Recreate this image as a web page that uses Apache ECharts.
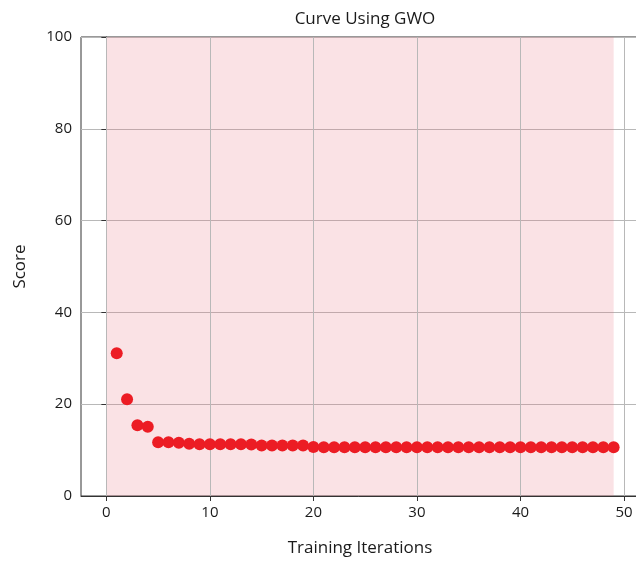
<!DOCTYPE html>
<html>
<head>
<meta charset="utf-8">
<script src="https://cdn.jsdelivr.net/npm/echarts@6/dist/echarts.min.js"></script>
<style>
html, body { margin: 0; padding: 0; background: #fff; }
#main { width: 636px; height: 565px; }
</style>
</head>
<body>
<div id="main"></div>
<script>
// 迭代次数与得分
const iterations = [1,2,3,4,5,6,7,8,9,10,11,12,13,14,15,16,17,18,19,20,21,22,23,24,25,26,27,28,29,30,31,32,33,34,35,36,37,38,39,40,41,42,43,44,45,46,47,48,49];
const scores = [31.1,21.1,15.4,15.1,11.7,11.7,11.6,11.4,11.3,11.3,11.3,11.3,11.3,11.2,11.0,11.0,11.0,11.0,11.0,10.7,10.6,10.6,10.6,10.6,10.6,10.6,10.6,10.6,10.6,10.6,10.6,10.6,10.6,10.6,10.6,10.6,10.6,10.6,10.6,10.6,10.6,10.6,10.6,10.6,10.6,10.6,10.6,10.6,10.6];
const xTicks = [0, 10, 20, 30, 40, 50];
const spanRange = [0, 49];

const font = 'Open Sans';
const chart = echarts.init(document.getElementById('main'), null, { renderer: 'canvas' });

const option = {
	animation: false,
	title: {
		text: 'Curve Using GWO',
		left: 360,
		textAlign: 'center',
		top: 6,
		textStyle: { fontFamily: font, fontSize: 17, fontWeight: 'normal', color: '#1a1a1a' }
	},
	grid: {
		left: 81,
		top: 37,
		right: -3,
		bottom: 69,
		outerBoundsMode: 'none',
		show: true,
		borderColor: '#333',
		borderWidth: 1
	},
	xAxis: {
		type: 'value',
		min: -2.45,
		max: 51.45,
		name: 'Training Iterations',
		nameLocation: 'middle',
		nameGap: 44,
		nameTextStyle: { fontFamily: font, fontSize: 17, color: '#1a1a1a' },
		axisLine: { show: true, onZero: false, lineStyle: { color: '#333' } },
		axisTick: { show: true, customValues: xTicks, length: 5, lineStyle: { color: '#333' } },
		axisLabel: { customValues: xTicks, fontFamily: font, fontSize: 15, color: '#1a1a1a', margin: 9 },
		splitLine: { show: false }
	},
	yAxis: {
		type: 'value',
		min: 0,
		max: 100,
		interval: 20,
		name: 'Score',
		nameLocation: 'middle',
		nameGap: 52,
		nameTextStyle: { fontFamily: font, fontSize: 17, color: '#1a1a1a' },
		axisLine: { show: true, lineStyle: { color: '#333' } },
		axisTick: { show: true, length: 5, lineStyle: { color: '#333' } },
		axisLabel: { fontFamily: font, fontSize: 15, color: '#1a1a1a', margin: 9 },
		splitLine: { show: true, lineStyle: { color: '#b8b8b8', width: 1 } }
	},
	series: [
		{
			type: 'scatter',
			data: iterations.map((v, i) => [v, scores[i]]),
			symbolSize: 12,
			itemStyle: { color: '#ec1c24', opacity: 1 },
			z: 5,
			markArea: {
				silent: true,
				itemStyle: { color: 'rgba(228,110,125,0.2)' },
				data: [[{ xAxis: spanRange[0] }, { xAxis: spanRange[1] }]]
			},
			markLine: {
				silent: true,
				symbol: 'none',
				label: { show: false },
				lineStyle: { color: '#b8b8b8', type: 'solid', width: 1 },
				data: xTicks.map(t => ({ xAxis: t }))
			}
		}
	]
};

chart.setOption(option);
window.onresize = chart.resize;
</script>
</body>
</html>
